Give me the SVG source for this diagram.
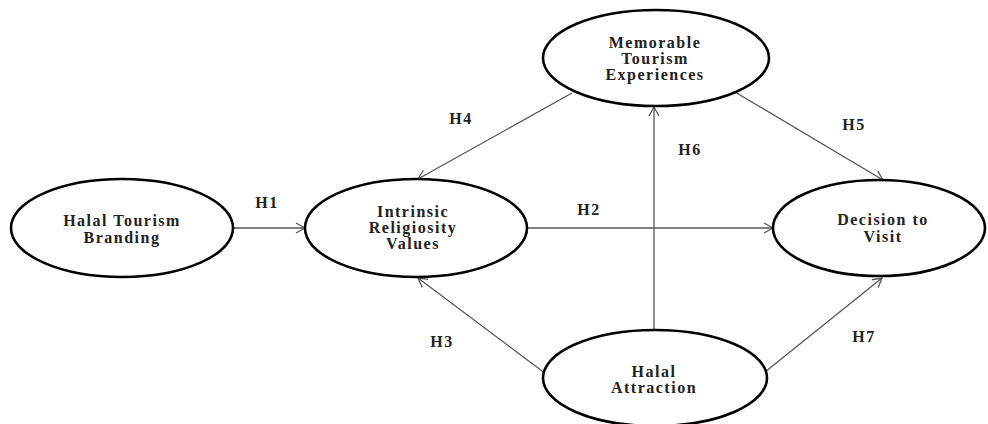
<svg xmlns="http://www.w3.org/2000/svg" width="988" height="424" viewBox="0 0 988 424">
<style>
.node ellipse{fill:#fff;stroke:#000;stroke-width:2.6}
.node text,.lbl{font-family:"Liberation Serif","Times New Roman",serif;font-weight:bold;font-size:16px;letter-spacing:1.5px;fill:#222;text-anchor:middle}
.conn line{stroke:#555;stroke-width:1.3;fill:none}
</style>
<defs>
<marker id="arr" markerUnits="userSpaceOnUse" markerWidth="12" markerHeight="12" refX="10" refY="6" orient="auto">
<path d="M1,1 L10,6 L1,11" fill="none" stroke="#555" stroke-width="1.3"/>
</marker>
</defs>
<rect width="988" height="424" fill="#fff"/>
<g id="connectors" class="conn">
<line x1="233" y1="228" x2="305" y2="228" marker-end="url(#arr)"/>
<line x1="527" y1="228" x2="773" y2="228" marker-end="url(#arr)"/>
<line x1="572" y1="93" x2="418" y2="179" marker-end="url(#arr)"/>
<line x1="735" y1="92" x2="883" y2="180" marker-end="url(#arr)"/>
<line x1="654" y1="330" x2="654" y2="107" marker-end="url(#arr)"/>
<line x1="546" y1="374" x2="418" y2="278" marker-end="url(#arr)"/>
<line x1="765" y1="372" x2="882" y2="278" marker-end="url(#arr)"/>
</g>
<g id="labels">
<text class="lbl" x="267" y="208">H1</text>
<text class="lbl" x="589" y="215">H2</text>
<text class="lbl" x="442" y="347">H3</text>
<text class="lbl" x="461" y="124">H4</text>
<text class="lbl" x="854" y="130">H5</text>
<text class="lbl" x="690" y="155">H6</text>
<text class="lbl" x="864" y="342">H7</text>
</g>
<g id="halal-tourism-branding" class="node">
<ellipse cx="122" cy="228" rx="111" ry="49"/>
<text x="122" y="226">Halal Tourism</text>
<text x="122" y="243">Branding</text>
</g>
<g id="intrinsic-religiosity-values" class="node">
<ellipse cx="416" cy="228" rx="111" ry="49"/>
<text x="413" y="217">Intrinsic</text>
<text x="413" y="233">Religiosity</text>
<text x="413" y="249">Values</text>
</g>
<g id="memorable-tourism-experiences" class="node">
<ellipse cx="656" cy="58" rx="113" ry="48"/>
<text x="655" y="48">Memorable</text>
<text x="655" y="64">Tourism</text>
<text x="655" y="80">Experiences</text>
</g>
<g id="decision-to-visit" class="node">
<ellipse cx="879" cy="228" rx="106" ry="48"/>
<text x="883" y="225">Decision to</text>
<text x="883" y="242">Visit</text>
</g>
<g id="halal-attraction" class="node">
<ellipse cx="655" cy="378" rx="112" ry="48"/>
<text x="654" y="377">Halal</text>
<text x="654" y="393">Attraction</text>
</g>
</svg>
